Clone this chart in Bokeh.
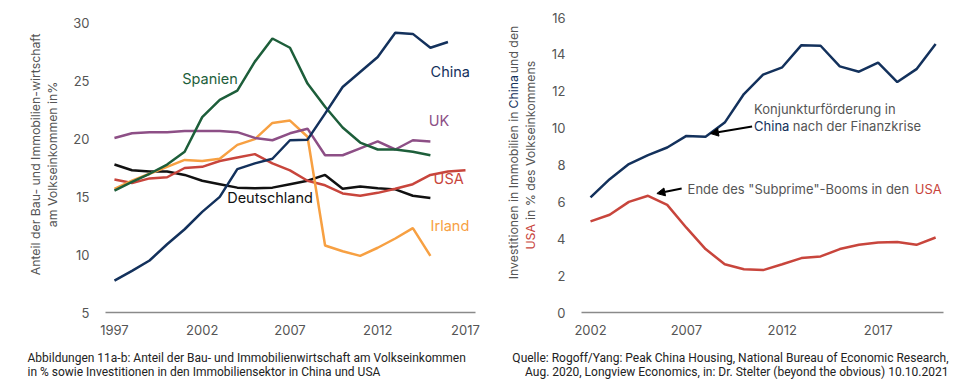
from bokeh.plotting import figure
from bokeh.models import Label, Arrow, NormalHead, FixedTicker, Range1d
from bokeh.layouts import row, column
from bokeh.embed import file_html
from bokeh.resources import INLINE

# ---------------- data (left chart) ----------------
years_l = list(range(1997, 2018))
china_l = [7.75, 8.6, 9.5, 10.9, 12.2, 13.7, 15.0, 17.4, 17.9, 18.3, 19.9, 19.95,
           22.2, 24.5, 25.8, 27.1, 29.2, 29.1, 27.9, 28.4]
spanien = [15.55, 16.3, 17.0, 17.8, 18.9, 21.9, 23.4, 24.2, 26.7, 28.7, 27.9, 24.8,
           22.8, 21.0, 19.7, 19.1, 19.1, 18.9, 18.6]
uk = [20.1, 20.5, 20.6, 20.6, 20.7, 20.7, 20.7, 20.6, 20.1, 19.9, 20.5, 20.9,
      18.6, 18.6, 19.2, 19.8, 19.1, 19.9, 19.8]
irland = [15.7, 16.4, 17.0, 17.6, 18.2, 18.1, 18.3, 19.5, 20.0, 21.4, 21.6, 20.2,
          10.8, 10.3, 9.9, 10.6, 11.4, 12.3, 9.9]
usa_l = [16.5, 16.2, 16.6, 16.7, 17.5, 17.6, 18.1, 18.4, 18.7, 17.9, 17.3, 16.4,
         16.0, 15.3, 15.1, 15.35, 15.7, 16.1, 16.9, 17.2, 17.3]
deutschland = [17.8, 17.3, 17.2, 17.2, 16.9, 16.4, 16.1, 15.8, 15.75, 15.8, 16.1, 16.4,
               16.9, 15.7, 15.9, 15.75, 15.65, 15.1, 14.9]
ticks_l_x = [1997, 2002, 2007, 2012, 2017]
ticks_l_y = [5, 10, 15, 20, 25, 30]

# ---------------- data (right chart) ----------------
years_r = list(range(2002, 2021))
china_r = [6.24, 7.23, 8.05, 8.54, 8.95, 9.58, 9.53, 10.3, 11.85, 12.9, 13.3, 14.5,
           14.47, 13.35, 13.06, 13.56, 12.5, 13.2, 14.56]
usa_r = [4.94, 5.3, 6.0, 6.33, 5.84, 4.6, 3.44, 2.62, 2.35, 2.3, 2.62, 2.95, 3.04,
         3.44, 3.67, 3.8, 3.83, 3.67, 4.07]
ticks_r_x = [2002, 2007, 2012, 2017]
ticks_r_y = [0, 2, 4, 6, 8, 10, 12, 14, 16]

# ---------------- styles ----------------
C_CHINA = "#13315c"
C_SPAIN = "#1d5e3a"
C_UK = "#8d4f86"
C_IRL = "#f7a042"
C_USA = "#c8453c"
C_DE = "#111111"
GRAY_TXT = "#555555"
FONT = "Inter"
CAP_FONT = "Roboto"

TOP_H = 340          # height of the chart row
CAP_H = 49           # height of the caption strip
L_XR = (1996.49, 2017.57)   # left frame spans page x 104..475
L_YR = (5, 30.69)           # frame spans page y 15..312
R_XR = (2001.53, 2020.41)   # right frame spans page x 578..943
R_YR = (0, 16.11)


def mapper(fx0, fx1, xr, yr):
    def fx(px):
        return xr[0] + (px - fx0) / (fx1 - fx0) * (xr[1] - xr[0])

    def fy(py):
        return yr[0] + (312 - py) / 297 * (yr[1] - yr[0])
    return fx, fy


lx, ly = mapper(104, 475, L_XR, L_YR)
rx, ry = mapper(578, 943, R_XR, R_YR)


def base_fig(width, xr, yr, ml, mr, xt, yt):
    p = figure(width=width, height=TOP_H, output_backend="svg", toolbar_location=None,
               x_range=Range1d(*xr), y_range=Range1d(*yr),
               min_border_left=ml, min_border_right=mr, min_border_top=15,
               min_border_bottom=28)
    p.outline_line_color = None
    p.xgrid.visible = False
    p.ygrid.visible = False
    p.xaxis.ticker = FixedTicker(ticks=xt)
    p.yaxis.ticker = FixedTicker(ticks=yt)
    for ax in (p.xaxis[0], p.yaxis[0]):
        ax.major_tick_line_color = None
        ax.minor_tick_line_color = None
        ax.major_label_text_font = FONT
        ax.major_label_text_font_size = "13px"
        ax.major_label_text_color = GRAY_TXT
    p.yaxis.axis_line_color = None
    p.yaxis.major_label_standoff = 10
    p.xaxis.axis_line_color = "#8a8a8a"
    p.xaxis.axis_line_width = 1.5
    p.xaxis.major_label_standoff = 6
    return p


def text_fig(x0, x1, y0, y1):
    # blank canvas whose data coordinates equal page pixels
    f = figure(width=x1 - x0, height=y1 - y0, output_backend="svg", toolbar_location=None,
               x_range=Range1d(x0, x1), y_range=Range1d(y1, y0),
               x_axis_type=None, y_axis_type=None, min_border=0)
    f.outline_line_color = None
    return f


def lab(p, x, y, text, color, size="14.5px", align="left", angle=0, font=FONT):
    p.add_layout(Label(x=x, y=y, text=text, text_color=color, text_font=font,
                       text_font_size=size, text_align=align, text_baseline="middle",
                       angle=angle, angle_units="deg"))


# ---------------- left chart ----------------
p1 = base_fig(413, L_XR, L_YR, 34, 8, ticks_l_x, ticks_l_y)
LW = 2.5
p1.line(years_l[:len(deutschland)], deutschland, color=C_DE, line_width=LW)
p1.line(years_l[:len(usa_l)], usa_l, color=C_USA, line_width=LW)
p1.line(years_l[:len(irland)], irland, color=C_IRL, line_width=LW)
p1.line(years_l[:len(uk)], uk, color=C_UK, line_width=LW)
p1.line(years_l[:len(spanien)], spanien, color=C_SPAIN, line_width=LW)
p1.line(years_l[:len(china_l)], china_l, color=C_CHINA, line_width=LW)

lab(p1, lx(181), ly(78), "Spanien", C_SPAIN)
lab(p1, lx(430), ly(71), "China", C_CHINA)
lab(p1, lx(428), ly(120), "UK", C_UK)
lab(p1, lx(433), ly(178), "USA", C_USA)
lab(p1, lx(430), ly(225), "Irland", C_IRL)
lab(p1, lx(226), ly(197), "Deutschland", C_DE)

t1 = text_fig(0, 70, 0, TOP_H)
lab(t1, 35, 159, "Anteil der Bau- und Immobilien-wirtschaft", GRAY_TXT,
    size="12.3px", align="center", angle=90)
lab(t1, 52, 159, "am Volkseinkommen in%", GRAY_TXT, size="12.3px", align="center", angle=90)

# ---------------- right chart ----------------
p2 = base_fig(415, R_XR, R_YR, 30, 20, ticks_r_x, ticks_r_y)
p2.line(years_r, china_r, color=C_CHINA, line_width=LW)
p2.line(years_r, usa_r, color=C_USA, line_width=LW)

ANN = "13px"
lab(p2, rx(752), ry(108), "Konjunkturförderung in", GRAY_TXT, size=ANN)
lab(p2, rx(752), ry(125), "China", C_CHINA, size=ANN)
lab(p2, rx(791), ry(125), "nach der Finanzkrise", GRAY_TXT, size=ANN)
lab(p2, rx(685), ry(188), "Ende des \"Subprime\"-Booms in den", GRAY_TXT, size=ANN)
lab(p2, rx(914), ry(188), "USA", C_USA, size=ANN)

p2.add_layout(Arrow(x_start=rx(750), y_start=ry(126), x_end=rx(708), y_end=ry(133),
                    line_color="black", line_width=2,
                    end=NormalHead(size=8, fill_color="black", line_color="black")))
p2.add_layout(Arrow(x_start=rx(679), y_start=ry(188), x_end=rx(654), y_end=ry(193),
                    line_color="black", line_width=2,
                    end=NormalHead(size=8, fill_color="black", line_color="black")))

t2 = text_fig(483, 548, 0, TOP_H)
YT = "12.3px"
lab(t2, 513, 302, "Investitionen in Immobilien in", GRAY_TXT, size=YT, angle=90)
lab(t2, 513, 106.5, "China", C_CHINA, size=YT, angle=90)
lab(t2, 513, 66, "und den", GRAY_TXT, size=YT, angle=90)
lab(t2, 530, 268, "USA", C_USA, size=YT, angle=90)
lab(t2, 530, 234, "in % des Volkseinkommens", GRAY_TXT, size=YT, angle=90)

# ---------------- captions ----------------
cap = text_fig(0, 963, TOP_H, TOP_H + CAP_H)
CAP = "12px"
lab(cap, 27, 357, "Abbildungen 11a-b: Anteil der Bau- und Immobilienwirtschaft am Volkseinkommen",
    "#222222", size=CAP, font=CAP_FONT)
lab(cap, 27, 371, "in % sowie Investitionen in den Immobiliensektor in China und USA",
    "#222222", size=CAP, font=CAP_FONT)
lab(cap, 948, 357, "Quelle: Rogoff/Yang: Peak China Housing, National Bureau of Economic Research,",
    "#222222", size=CAP, align="right", font=CAP_FONT)
lab(cap, 948, 371, "Aug. 2020, Longview Economics, in: Dr. Stelter (beyond the obvious) 10.10.2021",
    "#222222", size=CAP, align="right", font=CAP_FONT)

layout = column(row(t1, p1, t2, p2, spacing=0), cap, spacing=0)
open("out.html", "w").write(file_html(layout, INLINE))
